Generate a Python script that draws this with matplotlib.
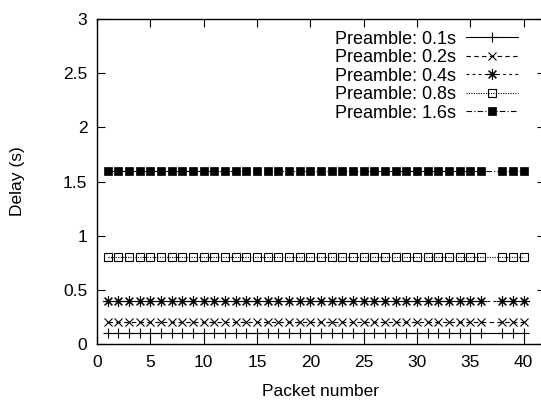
import matplotlib.pyplot as plt
import numpy as np

plt.rcParams['font.family'] = ['Liberation Sans', 'DejaVu Sans']

# packet numbers (packet 37 missing in every run)
packets = [1, 2, 3, 4, 5, 6, 7, 8, 9, 10, 11, 12, 13, 14, 15, 16, 17, 18, 19, 20,
           21, 22, 23, 24, 25, 26, 27, 28, 29, 30, 31, 32, 33, 34, 35, 36, 38, 39, 40]
n = len(packets)

delay_01 = [0.1] * n
delay_02 = [0.2] * n
delay_04 = [0.4] * n
delay_08 = [0.8] * n
delay_16 = [1.6] * n

labels = ["Preamble: 0.1s", "Preamble: 0.2s", "Preamble: 0.4s",
          "Preamble: 0.8s", "Preamble: 1.6s"]
xticks = [0, 5, 10, 15, 20, 25, 30, 35, 40]
yticks = [0, 0.5, 1, 1.5, 2, 2.5, 3]

fig = plt.figure(figsize=(5.41, 4.0), dpi=100)
ax = fig.add_axes([97/541, 56/400, 448/541, 325/400])

lw = 0.8
ms = 7
ax.plot(packets, delay_01, color='k', lw=lw, ls='-', marker='+', ms=ms, mew=lw, label=labels[0])
ax.plot(packets, delay_02, color='k', lw=lw, ls=(0, (4, 3)), marker='x', ms=ms*0.85, mew=lw, label=labels[1])
ax.plot(packets, delay_04, color='k', lw=lw, ls=(0, (2.5, 3)), marker=(8, 2, 0), ms=ms*1.1, mew=lw, label=labels[2])
ax.plot(packets, delay_08, color='k', lw=lw, ls=(0, (1, 1.2)), marker='s', ms=5.6, mew=lw,
        mfc='none', label=labels[3])
ax.plot(packets, delay_16, color='k', lw=lw, ls=(0, (5, 2, 1, 2)), marker='s', ms=5.4, mew=0.5,
        mfc='k', label=labels[4])

ax.set_xlim(0, 42)
ax.set_ylim(0, 3)
ax.set_xticks(xticks)
ax.set_yticks(yticks)
ax.set_yticklabels(['0', '0.5', '1', '1.5', '2', '2.5', '3'])
ax.tick_params(direction='in', length=6, width=0.8, top=True, right=True, labelsize=12.5)
ax.tick_params(axis='x', pad=8)
ax.tick_params(axis='y', pad=7)
for s in ax.spines.values():
    s.set_linewidth(1.0)

ax.set_xlabel("Packet number", fontsize=12.5, labelpad=10)
ax.set_ylabel("Delay (s)", fontsize=12.5, labelpad=27)

ax.legend(loc='upper right', bbox_to_anchor=((530 - 97) / 448, 1.0), frameon=False,
          markerfirst=False, fontsize=13, handlelength=2.9, handletextpad=0.55,
          labelspacing=0.08, borderaxespad=0.4, borderpad=0.25)

fig.savefig("out.png", dpi=100)
